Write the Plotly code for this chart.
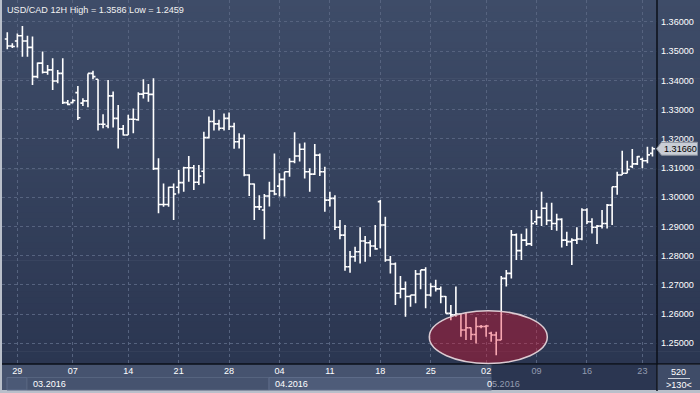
import plotly.graph_objects as go

# ---------------- data (USD/CAD, 12H bars) ----------------
open_ = [
    1.3542, 1.3518, 1.3535, 1.3553, 1.3535, 1.3513, 1.3413, 1.3459, 1.3428, 1.3436,
    1.3398, 1.3424, 1.3324, 1.3324, 1.3358, 1.3322, 1.3330, 1.3424, 1.3404, 1.3250,
    1.3244, 1.3347, 1.3270, 1.3234, 1.3213, 1.3267, 1.3265, 1.3353, 1.3356, 1.3352,
    1.3098, 1.2975, 1.2975, 1.3034, 1.3034, 1.3050, 1.3101, 1.3101, 1.3051, 1.3089,
    1.3204, 1.3259, 1.3251, 1.3236, 1.3270, 1.3242, 1.3190, 1.3201, 1.3076, 1.3045,
    1.2967, 1.2956, 1.3004, 1.3021, 1.3038, 1.3061, 1.3087, 1.3122, 1.3141, 1.3164,
    1.3087, 1.3079, 1.3144, 1.3087, 1.2990, 1.2996, 1.2897, 1.2870, 1.2762, 1.2796,
    1.2813, 1.2850, 1.2844, 1.2833, 1.2985, 1.2905, 1.2785, 1.2771, 1.2671, 1.2686,
    1.2660, 1.2665, 1.2737, 1.2751, 1.2665, 1.2694, 1.2686, 1.2660, 1.2602, 1.2597,
    1.2600, 1.2545, 1.2553, 1.2530, 1.2557, 1.2557, 1.2534, 1.2528, 1.2511, 1.2722,
    1.2739, 1.2871, 1.2817, 1.2853, 1.2840, 1.2916, 1.2931, 1.2962, 1.2920, 1.2910,
    1.2924, 1.2853, 1.2848, 1.2853, 1.2857, 1.2956, 1.2916, 1.2897, 1.2901, 1.2910,
    1.2973, 1.3036, 1.3076, 1.3082, 1.3105, 1.3114, 1.3130, 1.3125, 1.3150]
high = [
    1.3565, 1.3527, 1.3561, 1.3586, 1.3553, 1.3550, 1.3461, 1.3499, 1.3453, 1.3476,
    1.3436, 1.3476, 1.3333, 1.3335, 1.3381, 1.3339, 1.3424, 1.3433, 1.3404, 1.3284,
    1.3401, 1.3362, 1.3316, 1.3247, 1.3282, 1.3304, 1.3359, 1.3404, 1.3388, 1.3407,
    1.3133, 1.3047, 1.3036, 1.3047, 1.3093, 1.3104, 1.3141, 1.3110, 1.3110, 1.3224,
    1.3276, 1.3299, 1.3265, 1.3287, 1.3290, 1.3255, 1.3219, 1.3215, 1.3079, 1.3047,
    1.3007, 1.3011, 1.3053, 1.3150, 1.3082, 1.3087, 1.3133, 1.3222, 1.3184, 1.3187,
    1.3099, 1.3182, 1.3150, 1.3104, 1.3019, 1.3007, 1.2922, 1.2905, 1.2816, 1.2830,
    1.2897, 1.2867, 1.2853, 1.2905, 1.2990, 1.2933, 1.2799, 1.2776, 1.2730, 1.2711,
    1.2665, 1.2751, 1.2751, 1.2760, 1.2705, 1.2717, 1.2694, 1.2662, 1.2631, 1.2694,
    1.2602, 1.2605, 1.2554, 1.2589, 1.2562, 1.2562, 1.2539, 1.2539, 1.2730, 1.2751,
    1.2888, 1.2876, 1.2875, 1.2893, 1.2956, 1.2956, 1.3019, 1.2981, 1.2981, 1.2943,
    1.2928, 1.2882, 1.2859, 1.2897, 1.2962, 1.2962, 1.2928, 1.2905, 1.2956, 1.2977,
    1.3036, 1.3087, 1.3159, 1.3125, 1.3165, 1.3141, 1.3135, 1.3173, 1.3173]
low = [
    1.3507, 1.3511, 1.3513, 1.3481, 1.3481, 1.3384, 1.3407, 1.3424, 1.3419, 1.3367,
    1.3390, 1.3319, 1.3315, 1.3322, 1.3264, 1.3312, 1.3308, 1.3404, 1.3228, 1.3236,
    1.3236, 1.3239, 1.3167, 1.3211, 1.3213, 1.3219, 1.3262, 1.3338, 1.3327, 1.3093,
    1.2945, 1.2967, 1.2967, 1.2922, 1.3013, 1.3019, 1.3053, 1.3025, 1.3042, 1.3047,
    1.3201, 1.3228, 1.3228, 1.3228, 1.3230, 1.3166, 1.3167, 1.3072, 1.3004, 1.2922,
    1.2956, 1.2856, 1.2968, 1.3007, 1.3002, 1.3002, 1.3070, 1.3116, 1.3122, 1.3064,
    1.3019, 1.3076, 1.3073, 1.2950, 1.2968, 1.2888, 1.2856, 1.2748, 1.2741, 1.2779,
    1.2773, 1.2779, 1.2796, 1.2820, 1.2825, 1.2779, 1.2739, 1.2631, 1.2654, 1.2591,
    1.2625, 1.2637, 1.2685, 1.2620, 1.2660, 1.2677, 1.2637, 1.2602, 1.2579, 1.2591,
    1.2522, 1.2511, 1.2511, 1.2499, 1.2551, 1.2522, 1.2505, 1.2459, 1.2511, 1.2694,
    1.2722, 1.2785, 1.2785, 1.2833, 1.2833, 1.2905, 1.2901, 1.2905, 1.2888, 1.2885,
    1.2828, 1.2833, 1.2768, 1.2840, 1.2853, 1.2908, 1.2876, 1.2840, 1.2893, 1.2893,
    1.2905, 1.3008, 1.3076, 1.3082, 1.3100, 1.3110, 1.3099, 1.3116, 1.3139]
close = [
    1.3518, 1.3516, 1.3553, 1.3535, 1.3513, 1.3413, 1.3459, 1.3428, 1.3436, 1.3398,
    1.3424, 1.3324, 1.3318, 1.3331, 1.3272, 1.3330, 1.3424, 1.3413, 1.3250, 1.3250,
    1.3347, 1.3270, 1.3234, 1.3213, 1.3267, 1.3267, 1.3353, 1.3356, 1.3352, 1.3098,
    1.2975, 1.2975, 1.3034, 1.3011, 1.3050, 1.3101, 1.3101, 1.3051, 1.3072, 1.3204,
    1.3259, 1.3251, 1.3236, 1.3270, 1.3242, 1.3190, 1.3201, 1.3076, 1.3045, 1.2967,
    1.2967, 1.3004, 1.3021, 1.3011, 1.3061, 1.3087, 1.3122, 1.3141, 1.3164, 1.3087,
    1.3079, 1.3144, 1.3087, 1.2990, 1.2996, 1.2897, 1.2870, 1.2762, 1.2796, 1.2813,
    1.2850, 1.2844, 1.2833, 1.2823, 1.2905, 1.2785, 1.2771, 1.2671, 1.2686, 1.2660,
    1.2665, 1.2737, 1.2751, 1.2665, 1.2694, 1.2686, 1.2660, 1.2602, 1.2597, 1.2600,
    1.2545, 1.2553, 1.2530, 1.2557, 1.2557, 1.2559, 1.2528, 1.2511, 1.2722, 1.2739,
    1.2871, 1.2817, 1.2853, 1.2840, 1.2910, 1.2931, 1.2962, 1.2920, 1.2910, 1.2924,
    1.2853, 1.2848, 1.2853, 1.2857, 1.2956, 1.2916, 1.2897, 1.2901, 1.2910, 1.2973,
    1.3036, 1.3076, 1.3082, 1.3095, 1.3114, 1.3139, 1.3125, 1.3145, 1.3166]

bar_index = list(range(len(open_)))
tick_index = [2, 13, 24, 34, 44, 54, 64, 74, 84, 95, 105, 115, 126]
tick_day = ["29", "07", "14", "21", "28", "04", "11", "18", "25", "02", "09", "16", "23"]
tick_future = [False] * 10 + [True] * 3
month_labels = ["03.2016", "04.2016", "05.2016"]
price_ticks = [1.25, 1.26, 1.27, 1.28, 1.29, 1.30, 1.31, 1.32, 1.33, 1.34, 1.35, 1.36]
last_price = 1.3166
title_text = "USD/CAD 12H High = 1.3586 Low = 1.2459"
bars_total = "520"
bars_visible = ">130<"

# ---------------- geometry helpers (pixels -> paper) ----------------
W, H = 700, 393
ML, MR, MT, MB = 2, 43, 0, 29
PW, PH = W - ML - MR, H - MT - MB


def px(x):
    return (x - ML) / PW


def py(y):
    return (MT + PH - y) / PH


Y_RANGE = [1.24288, 1.36753]
X_RANGE = [-1.05, 128.9]

FONT = "Liberation Sans, Arial, sans-serif"
FS = 9.1
GRID = "#56637f"
FUTURE = "#939cb0"

fig = go.Figure()
fig.add_trace(go.Ohlc(
    x=bar_index, open=open_, high=high, low=low, close=close,
    increasing=dict(line=dict(color="#ffffff", width=1.6)),
    decreasing=dict(line=dict(color="#ffffff", width=1.6)),
    tickwidth=0.5, hoverinfo="skip", showlegend=False,
))

shapes = []
# vertical gradient background (plot + price axis area)
top_c = (62, 76, 104)
bot_c = (43, 54, 81)
N = 60
for k in range(N):
    t = (k + 0.5) / N
    c = tuple(int(round(bot_c[j] + (top_c[j] - bot_c[j]) * t)) for j in range(3))
    shapes.append(dict(type="rect", xref="paper", yref="paper",
                       x0=0, x1=px(700), y0=k / N, y1=(k + 1) / N + 0.002,
                       fillcolor="rgb(%d,%d,%d)" % c, line=dict(width=0), layer="below"))
# date strip
shapes.append(dict(type="rect", xref="paper", yref="paper", x0=0, x1=px(657),
                   y0=py(390), y1=py(364), fillcolor="#46536f", line=dict(width=0), layer="below"))
# month row boxes
shapes.append(dict(type="rect", xref="paper", yref="paper", x0=px(7), x1=px(27),
                   y0=py(390), y1=py(377.5), fillcolor="#4b5976",
                   line=dict(color="#5d6b88", width=1), layer="below"))
shapes.append(dict(type="rect", xref="paper", yref="paper", x0=px(27), x1=px(269),
                   y0=py(390), y1=py(377.5), fillcolor="#46536f",
                   line=dict(color="#56647f", width=1), layer="below"))
shapes.append(dict(type="rect", xref="paper", yref="paper", x0=px(269), x1=px(491.5),
                   y0=py(390), y1=py(377.5), fillcolor="#4e5c79",
                   line=dict(color="#5d6b88", width=1), layer="below"))
# future (May) darker panel
shapes.append(dict(type="rect", xref="paper", yref="paper", x0=px(491.5), x1=px(656.5),
                   y0=py(390), y1=py(365), fillcolor="#2b3651", line=dict(width=0), layer="below"))
# corner box
shapes.append(dict(type="rect", xref="paper", yref="paper", x0=px(657.5), x1=px(700),
                   y0=py(390), y1=py(364.5), fillcolor="#3f4c68", line=dict(width=0), layer="below"))
# frame lines
shapes.append(dict(type="line", xref="paper", yref="paper", x0=px(2), x1=px(700),
                   y0=py(364), y1=py(364), line=dict(color="#0b0f18", width=1.5)))
shapes.append(dict(type="line", xref="paper", yref="paper", x0=px(657), x1=px(657),
                   y0=py(391), y1=py(0), line=dict(color="#0b0f18", width=1.5)))
shapes.append(dict(type="line", xref="paper", yref="paper", x0=px(668), x1=px(690),
                   y0=py(378.5), y1=py(378.5), line=dict(color="#c9ced8", width=1)))
# highlight ellipse
shapes.append(dict(type="circle", xref="paper", yref="paper",
                   x0=px(429.3), x1=px(547.3), y0=py(363.5), y1=py(310.7),
                   fillcolor="rgba(236,10,40,0.36)", line=dict(color="#dccbd2", width=1.5),
                   layer="above"))
# last price marker
ppx = (Y_RANGE[1] - Y_RANGE[0]) / PH
hh = 6.5 * ppx
path = "M %f,%f L %f,%f L %f,%f L %f,%f L %f,%f Z" % (
    px(656.5), last_price, px(661.5), last_price + hh, px(697.5), last_price + hh,
    px(697.5), last_price - hh, px(661.5), last_price - hh)
shapes.append(dict(type="path", xref="paper", yref="y", path=path,
                   fillcolor="#c9cdd5", line=dict(color="#8c929e", width=1)))

annotations = [
    dict(text=title_text, xref="paper", yref="paper", x=px(4.5), y=py(9.5),
         xanchor="left", yanchor="middle", showarrow=False,
         font=dict(family=FONT, size=FS, color="#f2f2f2")),
    dict(text="%.5f" % last_price, xref="paper", yref="y", x=px(662), y=last_price,
         xanchor="left", yanchor="middle", showarrow=False,
         font=dict(family=FONT, size=FS, color="#000000")),
    dict(text=bars_total, xref="paper", yref="paper", x=px(678.5), y=py(371.5),
         xanchor="center", yanchor="middle", showarrow=False,
         font=dict(family=FONT, size=FS, color="#ffffff")),
    dict(text=bars_visible, xref="paper", yref="paper", x=px(678.5), y=py(385),
         xanchor="center", yanchor="middle", showarrow=False,
         font=dict(family=FONT, size=FS, color="#ffffff")),
]
month_x = [31, 272.5, 485]
for lab, mx in zip(month_labels, month_x):
    if lab == "05.2016":
        # first character sits on the lit part, the rest on the darker future panel
        annotations.append(dict(text=lab[0], xref="paper", yref="paper", x=px(mx), y=py(383.7),
                                xanchor="left", yanchor="middle", showarrow=False,
                                font=dict(family=FONT, size=FS, color="#ffffff")))
        annotations.append(dict(text=lab[1:], xref="paper", yref="paper", x=px(mx + 5.1),
                                y=py(383.7), xanchor="left", yanchor="middle", showarrow=False,
                                font=dict(family=FONT, size=FS, color=FUTURE)))
    else:
        annotations.append(dict(text=lab, xref="paper", yref="paper", x=px(mx), y=py(383.7),
                                xanchor="left", yanchor="middle", showarrow=False,
                                font=dict(family=FONT, size=FS, color="#ffffff")))

ticktext = [('<span style="color:%s">%s</span>' % (FUTURE, d)) if f else d
            for d, f in zip(tick_day, tick_future)]

fig.update_layout(
    width=W, height=H, margin=dict(l=ML, r=MR, t=MT, b=MB),
    paper_bgcolor="#b9bfca", plot_bgcolor="rgba(0,0,0,0)",
    shapes=shapes, annotations=annotations, showlegend=False,
    xaxis=dict(range=X_RANGE, tickvals=tick_index, ticktext=ticktext,
               showgrid=True, gridcolor=GRID, griddash="3px,3px", gridwidth=1,
               zeroline=False, showline=False, ticks="",
               tickfont=dict(family=FONT, size=FS, color="#ffffff"),
               rangeslider=dict(visible=False), fixedrange=True),
    yaxis=dict(range=Y_RANGE, side="right", tickvals=price_ticks, tickformat=".5f",
               showgrid=True, gridcolor=GRID, griddash="3px,3px", gridwidth=1,
               zeroline=False, showline=False, ticks="", ticklabelstandoff=3,
               tickfont=dict(family=FONT, size=FS, color="#ffffff"), fixedrange=True),
)

fig.write_html("out.html")
